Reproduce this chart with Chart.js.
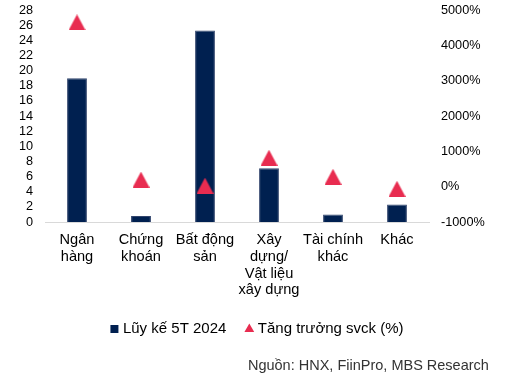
<!DOCTYPE html>
<html>
<head>
<meta charset="utf-8">
<script src="https://cdn.jsdelivr.net/npm/chart.js@4"></script>
<style>
html,body{margin:0;padding:0;background:#fff;}
#wrap{width:505px;height:380px;}
</style>
</head>
<body>
<div id="wrap"><canvas id="c" width="505" height="380"></canvas></div>
<script>
const categories = [['Ngân','hàng'], ['Chứng','khoán'], ['Bất động','sản'], ['Xây','dựng/','Vật liệu','xây dựng'], ['Tài chính','khác'], ['Khác']];
const cumulative5T2024 = [19, 0.8, 25.3, 7.1, 1.0, 2.3];
const yoyGrowthPct = [4650, 200, 30, 820, 280, -60];
const seriesNames = ['Lũy kế 5T 2024', 'Tăng trưởng svck (%)'];
const sourceText = 'Nguồn: HNX, FiinPro, MBS Research';

const NAVY = '#002050';
const RED = '#E82C50';
const FONT = "'Liberation Sans', Arial, sans-serif";

// custom triangle marker image (slightly taller than equilateral)
const tri = document.createElement('canvas');
tri.width = 17; tri.height = 16;
(function(){
  const g = tri.getContext('2d');
  g.fillStyle = RED;
  g.beginPath();
  g.moveTo(8.5, 0); g.lineTo(17, 16); g.lineTo(0, 16); g.closePath();
  g.fill();
})();

const LEGEND_SHIFT_Y = 9;
const LEGEND_SHIFT_X = 6;
const legendShift = {
  id: 'legendShift',
  afterLayout(chart) {
    const lg = chart.legend;
    if (lg) {
      lg.top -= LEGEND_SHIFT_Y; lg.bottom -= LEGEND_SHIFT_Y;
      lg.left += LEGEND_SHIFT_X; lg.right += LEGEND_SHIFT_X;
    }
  }
};

function trimPad(s) { s.paddingTop = 0; s.paddingBottom = 0; }

new Chart(document.getElementById('c'), {
  plugins: [legendShift],
  data: {
    labels: categories,
    datasets: [
      {
        type: 'line',
        label: seriesNames[1],
        data: yoyGrowthPct,
        yAxisID: 'y1',
        showLine: false,
        pointStyle: tri,
        backgroundColor: RED,
        borderColor: RED,
        order: 0
      },
      {
        type: 'bar',
        label: seriesNames[0],
        data: cumulative5T2024,
        yAxisID: 'y',
        backgroundColor: NAVY,
        borderColor: '#33466e',
        borderWidth: 1,
        categoryPercentage: 1,
        barPercentage: 0.31,
        order: 1
      }
    ]
  },
  options: {
    responsive: false,
    animation: false,
    devicePixelRatio: 1,
    layout: { autoPadding: false, padding: { top: 10, left: 0, right: 0, bottom: 2 } },
    plugins: {
      tooltip: { enabled: false },
      legend: {
        position: 'bottom',
        reverse: true,
        labels: {
          usePointStyle: true,
          boxWidth: 2,
          boxHeight: 8,
          padding: 22,
          color: '#000',
          font: { family: FONT, size: 15 },
          generateLabels: function(chart) {
            const items = Chart.defaults.plugins.legend.labels.generateLabels(chart);
            items.forEach(it => {
              if (it.datasetIndex === 0) { it.pointStyle = 'triangle'; it.fillStyle = RED; it.strokeStyle = RED; }
              else { it.pointStyle = 'rect'; it.fillStyle = NAVY; it.strokeStyle = NAVY; }
              it.lineWidth = 0;
            });
            return items;
          }
        }
      },
      subtitle: {
        display: true,
        position: 'bottom',
        align: 'end',
        text: sourceText + '    ',
        color: '#333',
        font: { family: FONT, size: 14.5, weight: 'normal' },
        padding: { top: 2, bottom: 3 }
      }
    },
    scales: {
      x: {
        grid: { display: false, drawTicks: false },
        border: { display: true, color: '#d9d9d9', width: 1 },
        ticks: {
          color: '#000',
          font: { family: FONT, size: 14.6, lineHeight: 1.14 },
          padding: 10,
          maxRotation: 0,
          autoSkip: false
        }
      },
      y: {
        position: 'left',
        min: 0, max: 28,
        grid: { display: false, drawTicks: false },
        border: { display: false },
        ticks: { stepSize: 2, autoSkip: false, color: '#000', font: { family: FONT, size: 12.7 }, padding: 12 },
        afterFit: function(s) { s.width = 45; trimPad(s); }
      },
      y1: {
        position: 'right',
        min: -1000, max: 5000,
        grid: { display: false, drawTicks: false },
        border: { display: false },
        ticks: { stepSize: 1000, autoSkip: false, color: '#000', font: { family: FONT, size: 12.7 }, padding: 12,
          callback: v => v + '%' },
        afterFit: function(s) { s.width = 76; trimPad(s); }
      }
    }
  }
});
</script>
</body>
</html>
